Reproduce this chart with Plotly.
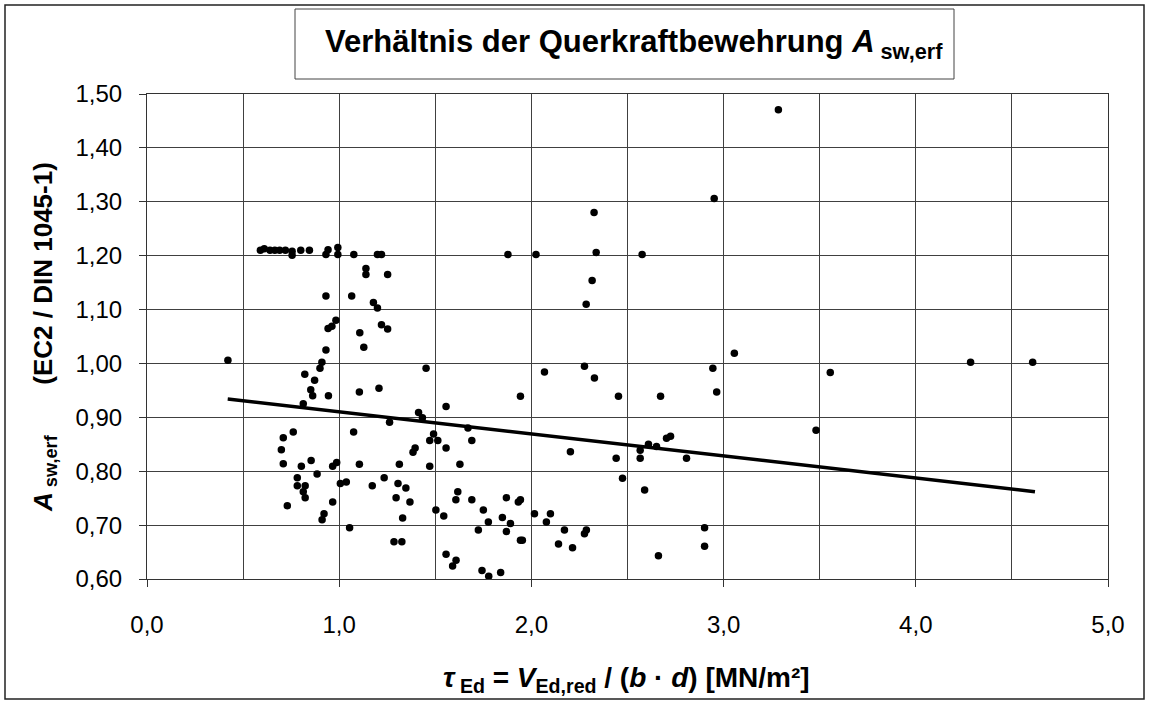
import plotly.graph_objects as go

# Measured ratio A_sw,erf (EC2 / DIN 1045-1) against shear stress tau_Ed
tau_ed = [
    0.59, 0.61, 0.64, 0.665, 0.69, 0.72, 0.755, 0.755, 0.80, 0.845,
    0.931, 0.942, 0.993, 0.993, 1.076, 1.199, 1.220, 1.139, 1.139, 1.252,
    0.931, 1.065, 1.178, 1.199, 0.983, 0.962, 0.942, 1.107, 1.220, 1.252,
    1.128, 0.931, 0.421, 1.452, 0.910, 0.900, 0.821, 0.872, 0.852, 0.862,
    0.944, 1.105, 1.207, 0.813, 1.413, 1.433, 1.556, 1.262, 1.670, 1.690,
    0.761, 0.709, 0.699, 0.709, 1.075, 1.491, 1.471, 1.513, 1.556, 1.384,
    1.395, 1.313, 1.471, 1.628, 0.803, 0.854, 0.966, 0.987, 1.105, 0.885,
    0.782, 0.782, 0.823, 0.813, 0.823, 0.730, 0.966, 1.006, 1.037, 1.172,
    1.234, 1.306, 1.347, 1.296, 1.368, 1.330, 0.921, 0.911, 1.054, 1.285,
    1.326, 1.503, 1.544, 1.617, 1.607, 1.690, 1.750, 1.724, 1.556, 1.608,
    1.590, 1.743, 1.778, 1.840, 1.776, 1.870, 1.849, 1.891, 1.870, 1.932,
    1.943, 1.943, 1.953, 2.016, 2.099, 2.078, 2.172, 2.141, 2.214, 2.276,
    2.286, 2.901, 2.901, 2.661, 2.068, 2.276, 2.328, 2.944, 2.964, 1.943,
    2.453, 2.672, 2.203, 2.441, 2.566, 2.566, 2.609, 2.651, 2.703, 2.724,
    2.807, 2.474, 2.589, 3.285, 2.951, 2.326, 1.878, 2.024, 2.337, 2.576,
    2.316, 2.285, 3.056, 3.555, 3.481, 4.285, 4.608,
]
asw_ratio = [
    1.210, 1.213, 1.210, 1.210, 1.210, 1.210, 1.208, 1.201, 1.210, 1.210,
    1.202, 1.211, 1.215, 1.202, 1.202, 1.202, 1.202, 1.176, 1.165, 1.165,
    1.125, 1.125, 1.113, 1.103, 1.080, 1.069, 1.065, 1.057, 1.072, 1.064,
    1.030, 1.025, 1.006, 0.991, 1.002, 0.991, 0.980, 0.969, 0.951, 0.940,
    0.940, 0.947, 0.954, 0.925, 0.909, 0.899, 0.920, 0.891, 0.880, 0.857,
    0.873, 0.862, 0.840, 0.814, 0.873, 0.869, 0.857, 0.857, 0.843, 0.835,
    0.843, 0.813, 0.809, 0.813, 0.809, 0.820, 0.809, 0.816, 0.813, 0.795,
    0.788, 0.773, 0.773, 0.762, 0.751, 0.736, 0.743, 0.777, 0.780, 0.773,
    0.788, 0.777, 0.769, 0.751, 0.743, 0.713, 0.721, 0.710, 0.695, 0.669,
    0.669, 0.728, 0.717, 0.762, 0.747, 0.747, 0.728, 0.691, 0.646, 0.635,
    0.624, 0.616, 0.605, 0.612, 0.706, 0.751, 0.714, 0.703, 0.688, 0.743,
    0.747, 0.672, 0.672, 0.721, 0.721, 0.706, 0.691, 0.665, 0.658, 0.684,
    0.691, 0.695, 0.661, 0.643, 0.984, 0.995, 0.973, 0.991, 0.947, 0.939,
    0.939, 0.939, 0.836, 0.824, 0.824, 0.839, 0.850, 0.846, 0.861, 0.865,
    0.824, 0.787, 0.765, 1.471, 1.306, 1.280, 1.202, 1.202, 1.206, 1.202,
    1.154, 1.110, 1.019, 0.983, 0.876, 1.002, 1.002,
]

# Linear trend line (start and end of the regression line)
trend_x = [0.42, 4.62]
trend_y = [0.934, 0.762]

x_ticks = [0, 1, 2, 3, 4, 5]
y_ticks = [0.60, 0.70, 0.80, 0.90, 1.00, 1.10, 1.20, 1.30, 1.40, 1.50]

W, H = 1149, 704
ML, MR, MT, MB = 147, 41, 94, 125
PW, PH = W - ML - MR, H - MT - MB


def px(x):
    return (x - ML) / PW


def py(y):
    return (H - MB - y) / PH


FONT = "Liberation Sans, Arial, sans-serif"

fig = go.Figure()
fig.add_trace(go.Scatter(
    x=tau_ed, y=asw_ratio, mode="markers",
    marker=dict(color="black", size=7.5),
    showlegend=False, cliponaxis=False,
))
fig.add_trace(go.Scatter(
    x=trend_x, y=trend_y, mode="lines",
    line=dict(color="black", width=3.5),
    showlegend=False,
))

axis_common = dict(
    showline=True, linecolor="#333333", linewidth=1, mirror=True,
    showgrid=True, gridcolor="#404040", gridwidth=1,
    ticks="outside", tickcolor="#333333", ticklen=7,
    tickfont=dict(family=FONT, size=24, color="black"),
    zeroline=False,
)

fig.update_layout(
    width=W, height=H,
    margin=dict(l=ML, r=MR, t=MT, b=MB),
    paper_bgcolor="white", plot_bgcolor="white",
    separators=",.",
    xaxis=dict(
        range=[0, 5], tickvals=x_ticks, tickformat=".1f",
        ticklabelstandoff=17,
        minor=dict(dtick=0.5, showgrid=True, gridcolor="#404040", gridwidth=1, ticks=""),
        **axis_common,
    ),
    yaxis=dict(
        range=[0.60, 1.50], tickvals=y_ticks, tickformat=".2f",
        ticklabelstandoff=12,
        **axis_common,
    ),
    shapes=[
        # outer chart frame
        dict(type="rect", xref="paper", yref="paper",
             x0=px(5), x1=px(1144), y0=py(699), y1=py(5),
             line=dict(color="#222222", width=1.5), layer="below"),
        # title frame
        dict(type="rect", xref="paper", yref="paper",
             x0=px(295), x1=px(954), y0=py(79), y1=py(9),
             line=dict(color="#444444", width=1), fillcolor="white"),
    ],
    annotations=[
        dict(text="<b>Verhältnis der Querkraftbewehrung <i>A</i><sub> sw,erf</sub></b>",
             xref="paper", yref="paper", x=px(634), y=py(44),
             xanchor="center", yanchor="middle", showarrow=False,
             font=dict(family=FONT, size=31, color="black")),
        dict(text="<b><i>τ</i><sub> Ed</sub> = <i>V</i><sub>Ed,red</sub> / (<i>b</i> · <i>d</i>) [MN/m²]</b>",
             xref="paper", yref="paper", x=px(626), y=py(679),
             xanchor="center", yanchor="middle", showarrow=False,
             font=dict(family=FONT, size=28, color="black")),
        dict(text="<b><i>A</i><sub> sw,erf</sub>\u00a0\u00a0\u00a0\u00a0\u00a0\u00a0\u00a0(EC2 / DIN 1045-1)</b>",
             xref="paper", yref="paper", x=px(44), y=py(337),
             xanchor="center", yanchor="middle", showarrow=False, textangle=-90,
             font=dict(family=FONT, size=26, color="black")),
    ],
)

fig.write_html("out.html")
